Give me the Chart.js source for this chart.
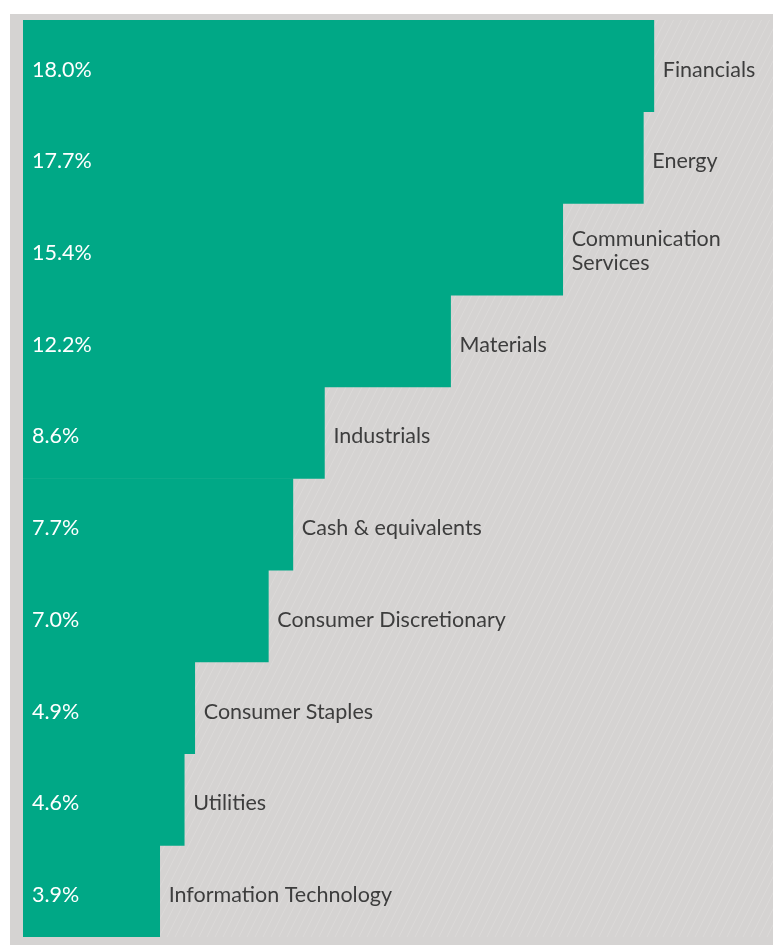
<!DOCTYPE html>
<html><head><meta charset="utf-8">
<script src="https://cdn.jsdelivr.net/npm/chart.js@4"></script>
<style>
html,body{margin:0;padding:0;background:#fff;}
#wrap{position:absolute;left:10px;top:14px;width:763px;height:931px;background:#d5d3d2;}
canvas{display:block;}
</style></head><body>
<div id="wrap"><canvas id="c" width="763" height="931"></canvas></div>
<script>
const categories = ["Financials","Energy",["Communication","Services"],"Materials","Industrials","Cash & equivalents","Consumer Discretionary","Consumer Staples","Utilities","Information Technology"];
const values = [18.0,17.7,15.4,12.2,8.6,7.7,7.0,4.9,4.6,3.9];
const valueLabels = ["18.0%","17.7%","15.4%","12.2%","8.6%","7.7%","7.0%","4.9%","4.6%","3.9%"];

const FONT = '21.5px Lato, "Noto Sans", sans-serif';

const stripes = {
  id:'stripes',
  beforeDraw(chart){
    const {ctx, chartArea:a} = chart;
    ctx.save();
    ctx.beginPath(); ctx.rect(a.left,a.top,a.right-a.left,a.bottom-a.top); ctx.clip();
    ctx.strokeStyle = 'rgba(255,255,255,0.16)';
    ctx.lineWidth = 1;
    for(let x=a.left-1000; x<a.right+100; x+=8){
      ctx.beginPath(); ctx.moveTo(x, a.bottom); ctx.lineTo(x+ (a.bottom-a.top)*0.5, a.top); ctx.stroke();
    }
    ctx.restore();
  }
};

const labels = {
  id:'labels',
  afterDatasetsDraw(chart){
    const {ctx} = chart;
    const meta = chart.getDatasetMeta(0);
    const xs = chart.scales.x;
    ctx.save();
    ctx.font = FONT;
    ctx.textBaseline = 'alphabetic';
    const cap = 15.5;
    meta.data.forEach((bar,i)=>{
      const y = bar.y + 3 + cap/2;
      ctx.fillStyle = '#ffffff';
      ctx.textAlign = 'left';
      ctx.fillText(valueLabels[i], xs.getPixelForValue(0)+9, y);
      ctx.fillStyle = '#3d3d3d';
      const lab = categories[i];
      const x = xs.getPixelForValue(values[i]) + 9;
      if (Array.isArray(lab)) {
        const lh = 24;
        lab.forEach((t,k)=> ctx.fillText(t, x, bar.y + cap/2 + 1 - lh*(lab.length-1)/2 + k*lh));
      } else ctx.fillText(lab, x, y);
    });
    ctx.restore();
  }
};

new Chart(document.getElementById('c'), {
  type:'bar',
  data:{
    labels: categories,
    datasets:[{data: values, backgroundColor:'#00a886', borderWidth:0, barPercentage:1, categoryPercentage:1}]
  },
  options:{
    indexAxis:'y',
    responsive:false,
    animation:false,
    layout:{padding:{left:13,top:6,bottom:8,right:0}},
    plugins:{legend:{display:false},tooltip:{enabled:false}},
    scales:{
      x:{display:false,min:0,max:21.4},
      y:{display:false}
    }
  },
  plugins:[stripes, labels]
});
</script>
</body></html>
